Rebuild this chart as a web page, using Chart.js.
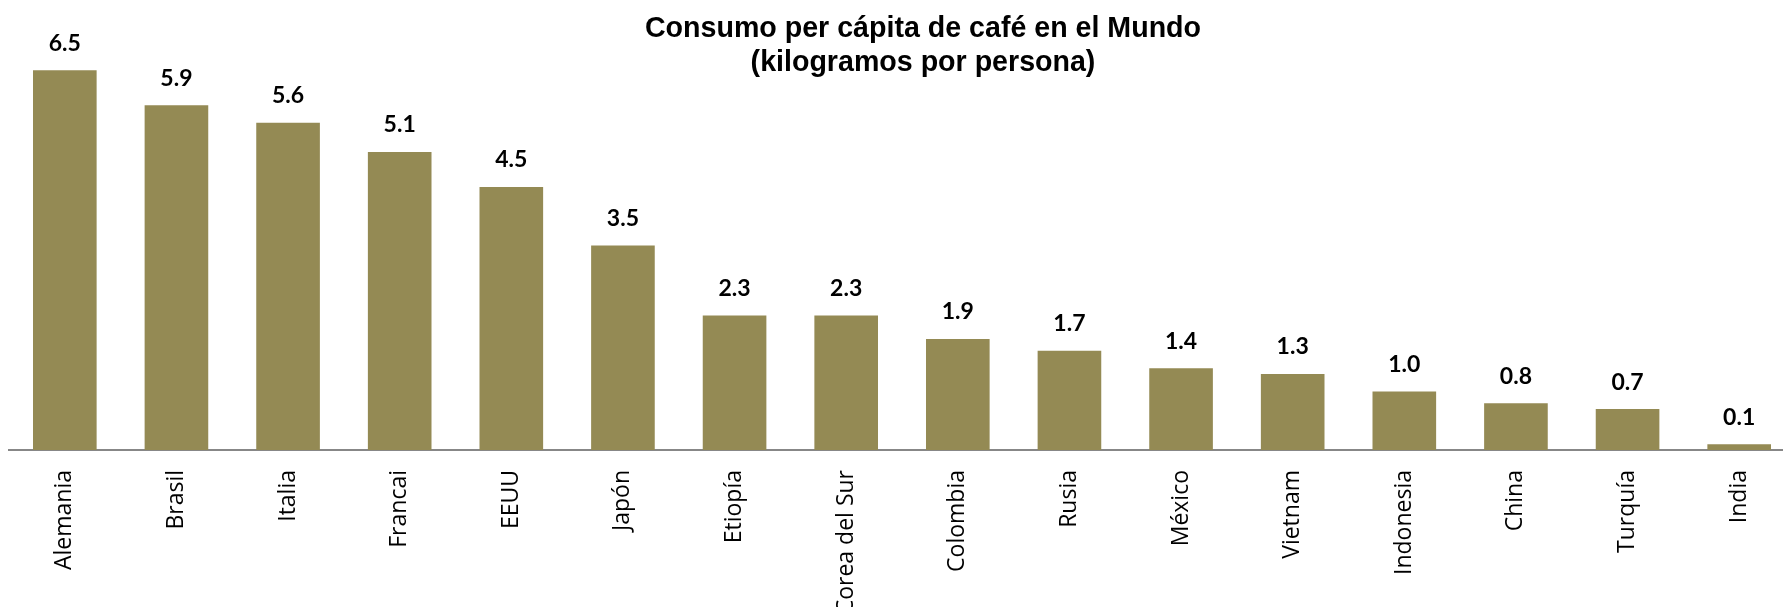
<!DOCTYPE html>
<html lang="es">
<head>
  <meta charset="UTF-8">
  <title>Consumo per cápita de café en el Mundo</title>
  <script src="https://cdn.jsdelivr.net/npm/chart.js@4.4.0/dist/chart.umd.min.js"></script>
  <style>
    html, body { margin: 0; padding: 0; background: #fff; overflow: hidden; }
    .chart-container { position: relative; width: 1800px; height: 607px; }
  </style>
</head>
<body>
  <div class="chart-container">
    <canvas id="cafeChart"></canvas>
  </div>

  <script>
    // data
    const paises = ['Alemania', 'Brasil', 'Italia', 'Francai', 'EEUU', 'Japón', 'Etiopía', 'Corea del Sur',
                    'Colombia', 'Rusia', 'México', 'Vietnam', 'Indonesia', 'China', 'Turquía', 'India'];
    const consumo = [6.5, 5.9, 5.6, 5.1, 4.5, 3.5, 2.3, 2.3, 1.9, 1.7, 1.4, 1.3, 1.0, 0.8, 0.7, 0.1];
    const tituloLineas = ['Consumo per cápita de café en el Mundo', '(kilogramos por persona)'];

    // title drawn over the plot, like the original
    const titlePlugin = {
      id: 'overlayTitle',
      afterDraw(chart) {
        const ctx = chart.ctx;
        ctx.save();
        ctx.fillStyle = '#000';
        ctx.font = 'bold 28.6px "Liberation Sans", Arial, sans-serif';
        ctx.textAlign = 'center';
        ctx.textBaseline = 'middle';
        ctx.fillText(tituloLineas[0], 923, 29);
        ctx.fillText(tituloLineas[1], 923, 63);
        ctx.restore();
      }
    };

    // value labels above bars
    const valueLabels = {
      id: 'valueLabels',
      afterDatasetsDraw(chart) {
        const ctx = chart.ctx;
        const meta = chart.getDatasetMeta(0);
        ctx.save();
        ctx.fillStyle = '#000';
        ctx.font = 'bold 23px Lato, "Open Sans", sans-serif';
        ctx.textAlign = 'center';
        ctx.textBaseline = 'middle';
        meta.data.forEach((bar, i) => {
          ctx.fillText(consumo[i].toFixed(1), bar.x, bar.y - 27);
        });
        ctx.restore();
      }
    };

    const ctx = document.getElementById('cafeChart').getContext('2d');
    new Chart(ctx, {
      type: 'bar',
      data: {
        labels: paises,
        datasets: [{
          data: consumo,
          backgroundColor: '#948A54',
          borderWidth: 0,
          barPercentage: 0.57,
          categoryPercentage: 1.0
        }]
      },
      options: {
        responsive: true,
        maintainAspectRatio: false,
        animation: false,
        layout: { padding: { left: 9, right: 5, top: 41, bottom: 0 } },
        plugins: {
          legend: { display: false },
          title: { display: false },
          tooltip: { enabled: false }
        },
        scales: {
          x: {
            grid: { display: false },
            border: { display: true, color: '#878787', width: 2 },
            ticks: {
              color: '#000',
              font: { family: '"Open Sans", sans-serif', size: 23 },
              minRotation: 90,
              maxRotation: 90,
              autoSkip: false,
              padding: 12
            },
            afterFit(scale) { scale.height = 157; }
          },
          y: {
            display: false,
            min: 0,
            max: 7
          }
        }
      },
      plugins: [valueLabels, titlePlugin]
    });
  </script>
</body>
</html>
